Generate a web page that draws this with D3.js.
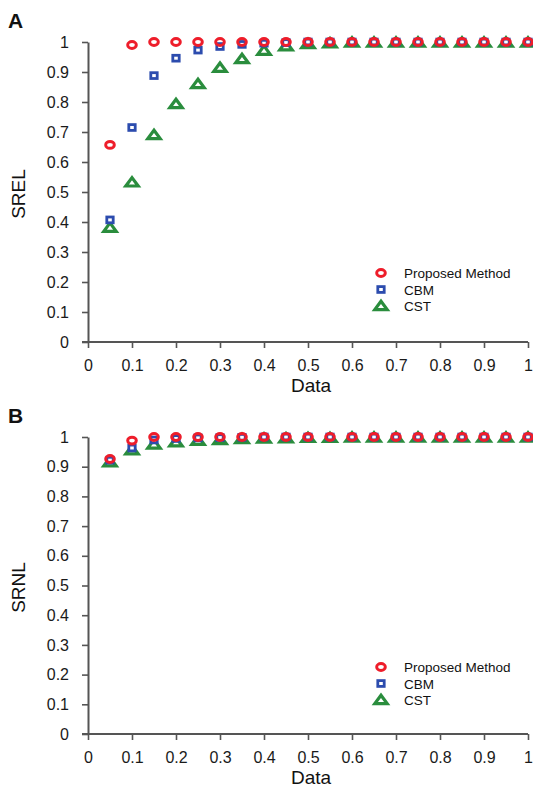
<!DOCTYPE html>
<html>
<head>
<meta charset="utf-8">
<script src="https://cdn.jsdelivr.net/npm/d3@7"></script>
<style>
  body { margin: 0; background: #fff; }
  svg { font-family: "Liberation Sans", Arial, sans-serif; }
</style>
</head>
<body>
<div id="chart"></div>
<script>
// x positions shared by both panels
var dataX = [0.05, 0.1, 0.15, 0.2, 0.25, 0.3, 0.35, 0.4, 0.45, 0.5,
             0.55, 0.6, 0.65, 0.7, 0.75, 0.8, 0.85, 0.9, 0.95, 1.0];

// panel A (SREL)
var srelProposed = [0.657, 0.99, 1, 1, 1, 1, 1, 1, 1, 1, 1, 1, 1, 1, 1, 1, 1, 1, 1, 1];
var srelCBM      = [0.407, 0.715, 0.888, 0.946, 0.973, 0.985, 0.992, 0.996, 0.998, 1, 1, 1, 1, 1, 1, 1, 1, 1, 1, 1];
var srelCST      = [0.381, 0.532, 0.69, 0.793, 0.86, 0.914, 0.943, 0.971, 0.986, 0.993, 0.996, 0.998, 0.998, 0.998, 0.998, 0.998, 0.998, 0.998, 0.998, 0.998];

// panel B (SRNL)
var srnlProposed = [0.926, 0.988, 1, 1, 1, 1, 1, 1, 1, 1, 1, 1, 1, 1, 1, 1, 1, 1, 1, 1];
var srnlCBM      = [0.922, 0.963, 0.99, 0.995, 0.997, 0.998, 0.999, 1, 1, 1, 1, 1, 1, 1, 1, 1, 1, 1, 1, 1];
var srnlCST      = [0.915, 0.955, 0.975, 0.982, 0.987, 0.99, 0.993, 0.995, 0.996, 0.997, 0.997, 0.998, 0.998, 0.998, 0.998, 0.998, 0.998, 0.998, 0.998, 0.998];

var seriesNames = ["Proposed Method", "CBM", "CST"];
var xTicks = [0, 0.1, 0.2, 0.3, 0.4, 0.5, 0.6, 0.7, 0.8, 0.9, 1];
var yTicks = [0, 0.1, 0.2, 0.3, 0.4, 0.5, 0.6, 0.7, 0.8, 0.9, 1];

var red = "#ee1d2a", blue = "#2c4cae", green = "#2a8d3d";
var axisColor = "#555";

var W = 533, H = 795;
var svg = d3.select("#chart").append("svg")
    .attr("width", W)
    .attr("height", H);

var fmt = function(d) { return String(+d.toFixed(1)); };

function drawMarker(g, type, cx, cy) {
  if (type === 0) {
    g.append("ellipse")
      .attr("cx", cx).attr("cy", cy)
      .attr("rx", 4.3).attr("ry", 3.4)
      .attr("fill", "none")
      .attr("stroke", red)
      .attr("stroke-width", 3);
  } else if (type === 1) {
    g.append("rect")
      .attr("x", cx - 3.2).attr("y", cy - 2.9)
      .attr("width", 6.4).attr("height", 5.8)
      .attr("fill", "#fff")
      .attr("stroke", blue)
      .attr("stroke-width", 2.8);
  } else {
    var hw = 6.2, hh = 4.8;
    g.append("path")
      .attr("d", "M" + cx + "," + (cy - hh) + "L" + (cx + hw) + "," + (cy + hh * 0.75) +
                 "L" + (cx - hw) + "," + (cy + hh * 0.75) + "Z")
      .attr("fill", "#fff")
      .attr("stroke", green)
      .attr("stroke-width", 3.2)
      .attr("stroke-linejoin", "miter");
  }
}

function drawPanel(opts) {
  var x = d3.scaleLinear().domain([0, 1]).range([88, 528]);
  var y = d3.scaleLinear().domain([0, 1]).range([opts.bottom, opts.top]);
  var g = svg.append("g");

  // panel letter
  g.append("text")
    .attr("x", 8).attr("y", opts.top - 14)
    .attr("font-size", 21).attr("font-weight", "bold")
    .attr("fill", "#111")
    .text(opts.letter);

  var yAxis = g.append("g")
    .attr("transform", "translate(88,0)")
    .call(d3.axisLeft(y).tickValues(yTicks).tickFormat(fmt).tickSize(6).tickPadding(13).tickSizeOuter(0));
  var xAxis = g.append("g")
    .attr("transform", "translate(0," + opts.bottom + ")")
    .call(d3.axisBottom(x).tickValues(xTicks).tickFormat(fmt).tickSize(6).tickPadding(12).tickSizeOuter(0));

  [yAxis, xAxis].forEach(function(a) {
    a.select(".domain").attr("stroke", axisColor).attr("stroke-width", 2);
    a.selectAll(".tick line").attr("stroke", axisColor).attr("stroke-width", 1.6);
    a.selectAll(".tick text").attr("font-size", 16).attr("fill", "#1a1a1a");
  });
  // x axis line runs left to the y tick start
  xAxis.select(".domain").attr("d", "M82,0H528");

  g.append("text")
    .attr("x", 311).attr("y", opts.bottom + 50)
    .attr("text-anchor", "middle")
    .attr("font-size", 19).attr("fill", "#111")
    .text("Data");

  g.append("text")
    .attr("transform", "translate(25," + ((opts.top + opts.bottom) / 2 + 2) + ") rotate(-90)")
    .attr("text-anchor", "middle")
    .attr("font-size", 19).attr("fill", "#111")
    .text(opts.ylabel);

  // draw CST first, then CBM, then proposed on top
  var order = [2, 1, 0];
  order.forEach(function(k) {
    var vals = opts.series[k];
    var layer = g.append("g");
    vals.forEach(function(v, i) {
      drawMarker(layer, k, x(dataX[i]), y(v));
    });
  });

  // legend
  var lg = g.append("g");
  seriesNames.forEach(function(name, i) {
    var ly = opts.legendY + i * 16.5;
    drawMarker(lg, i, 381, ly);
    lg.append("text")
      .attr("x", 404).attr("y", ly + 5)
      .attr("font-size", 13.5).attr("fill", "#111")
      .text(name);
  });
}

drawPanel({
  letter: "A", ylabel: "SREL", top: 42, bottom: 342, legendY: 273,
  series: [srelProposed, srelCBM, srelCST]
});
drawPanel({
  letter: "B", ylabel: "SRNL", top: 437, bottom: 734, legendY: 667,
  series: [srnlProposed, srnlCBM, srnlCST]
});
</script>
</body>
</html>
